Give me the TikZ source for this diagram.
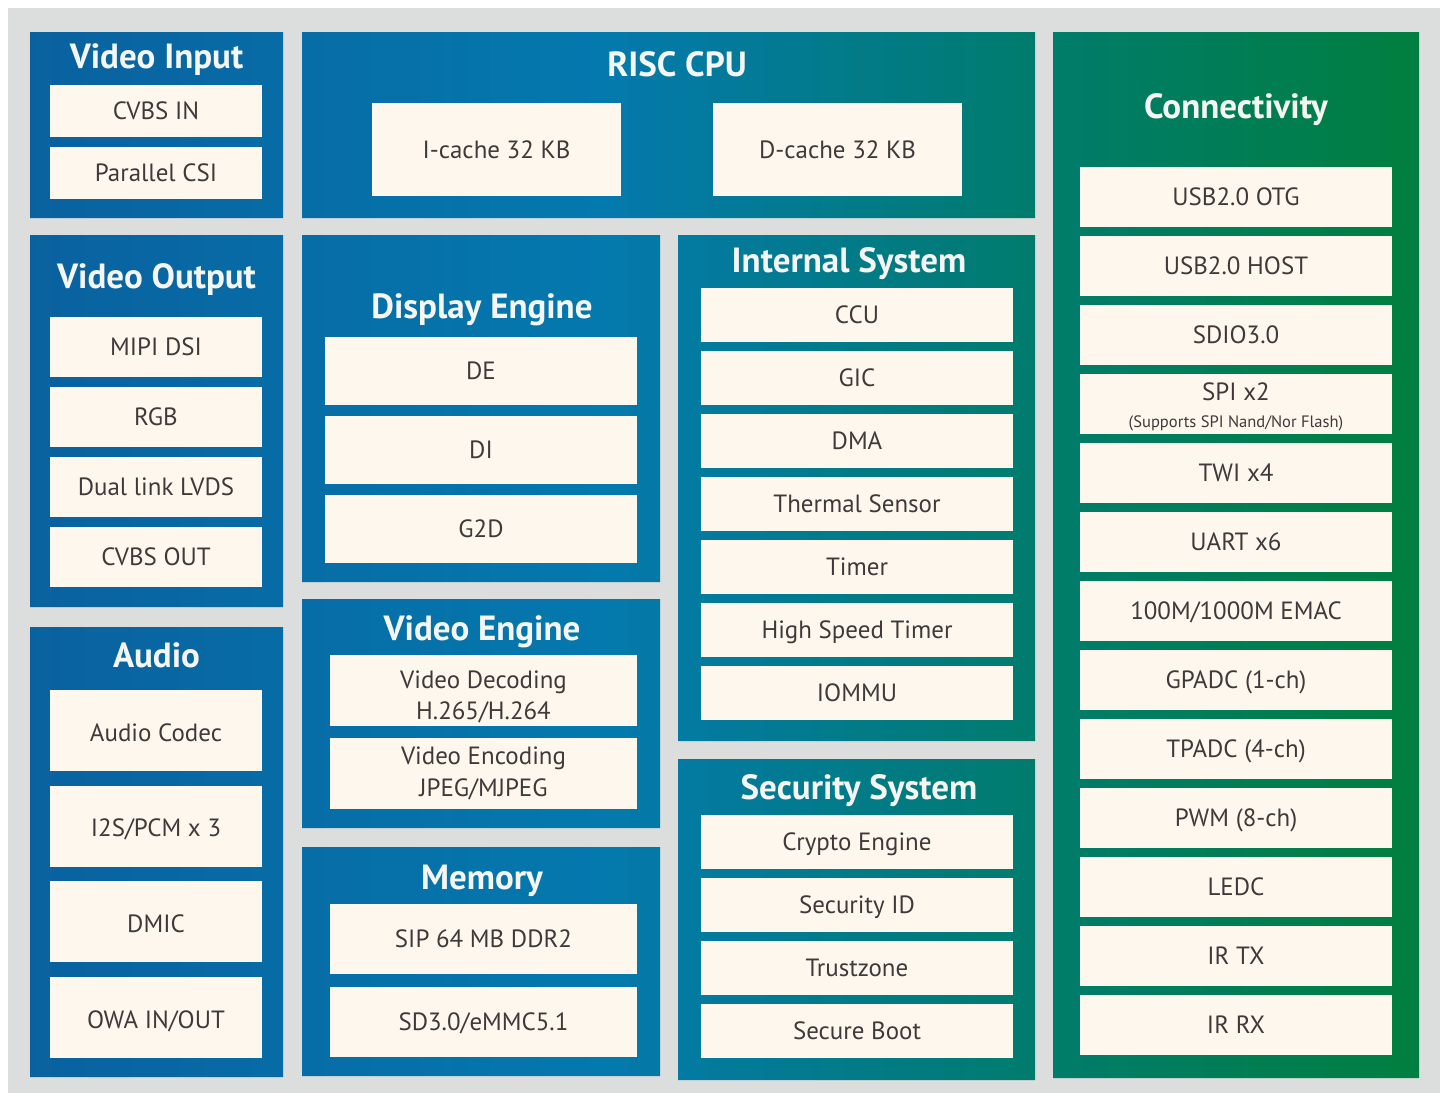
\documentclass[tikz,border=0pt]{standalone}
\usepackage{fontspec}
\setmainfont{PT Sans}
\usetikzlibrary{backgrounds}
\definecolor{chipgrey}{HTML}{DCDDDD}
\definecolor{cellfill}{HTML}{FEF7EE}
\definecolor{celltext}{HTML}{3E3A39}
\definecolor{titletext}{HTML}{F5F6F2}
\definecolor{gradA}{RGB}{10,96,158}
\definecolor{gradB}{RGB}{4,121,174}
\definecolor{gradC}{RGB}{0,124,108}
\definecolor{gradD}{RGB}{0,127,60}
\pgfdeclarehorizontalshading{chipgrad}{100bp}{color(0bp)=(gradA); color(25bp)=(gradA); color(45.7bp)=(gradB); color(60.9bp)=(gradC); color(75bp)=(gradD); color(100bp)=(gradD)}
\newdimen\pxu \pxu=0.02cm
\tikzset{grp/.style={anchor=north west, inner sep=0pt, outer sep=0pt}}
\tikzset{cellbase/.style={anchor=north west, fill=cellfill, text=celltext, inner sep=0pt, outer sep=0pt, align=center, font=\fontsize{14.2}{18}\selectfont}}
\tikzset{cell/.style={cellbase, text height=1.22em, text depth=0.2em}}
\tikzset{ttl/.style={anchor=base, text=titletext, inner sep=0pt, font=\fontsize{19.9}{23}\selectfont\bfseries}}
\newcommand\subnote[1]{{\fontsize{9.4}{11}\selectfont #1}}
\newcommand\hightop[1]{\rule{0pt}{#1}}

\begin{document}
\begin{tikzpicture}[x=0.02cm, y=-0.02cm]
\useasboundingbox (0,0) rectangle (1447,1093);
% groups
\node[grp, minimum width=253\pxu, minimum height=186\pxu] (vin) at (30,32) {};
\node[grp, minimum width=253\pxu, minimum height=372\pxu] (vout) at (30,235) {};
\node[grp, minimum width=253\pxu, minimum height=450\pxu] (audio) at (30,627) {};
\node[grp, minimum width=733\pxu, minimum height=186\pxu] (cpu) at (302,32) {};
\node[grp, minimum width=358\pxu, minimum height=347\pxu] (disp) at (302,235) {};
\node[grp, minimum width=358\pxu, minimum height=229\pxu] (veng) at (302,599) {};
\node[grp, minimum width=358\pxu, minimum height=229\pxu] (mem) at (302,847) {};
\node[grp, minimum width=357\pxu, minimum height=506\pxu] (isys) at (678,235) {};
\node[grp, minimum width=357\pxu, minimum height=321\pxu] (sec) at (678,759) {};
\node[grp, minimum width=366\pxu, minimum height=1046\pxu] (conn) at (1053,32) {};
% titles
\node[ttl] (vin-t) at (156.5,68) {Video Input};
\node[ttl] (vout-t) at (156.5,288) {Video Output};
\node[ttl] (audio-t) at (156.5,667) {Audio};
\node[ttl] (cpu-t) at (677,76) {RISC CPU};
\node[ttl] (disp-t) at (482,318) {Display Engine};
\node[ttl] (veng-t) at (482,640) {Video Engine};
\node[ttl] (mem-t) at (482,889) {Memory};
\node[ttl] (isys-t) at (849,272) {Internal System};
\node[ttl] (sec-t) at (859,799) {Security System};
\node[ttl] (conn-t) at (1236,118) {Connectivity};
% cells
\foreach \t [count=\i from 0] in {CVBS IN, Parallel CSI}
  \node[cell, minimum width=212\pxu, minimum height=52\pxu] (vin-\i) at (50,85+62*\i) {\t};
\foreach \t [count=\i from 0] in {MIPI DSI, RGB, Dual link LVDS, CVBS OUT}
  \node[cell, minimum width=212\pxu, minimum height=60\pxu] (vout-\i) at (50,317+70*\i) {\t};
\foreach \t [count=\i from 0] in {Audio Codec, I2S/PCM x 3, DMIC, OWA IN/OUT}
  \node[cell, text height=1.4em, minimum width=212\pxu, minimum height=81\pxu] (audio-\i) at (50,690+95.7*\i) {\t};
\node[cell, minimum width=249\pxu, minimum height=93\pxu] (icache) at (372,103) {I-cache 32 KB};
\node[cell, minimum width=249\pxu, minimum height=93\pxu] (dcache) at (713,103) {D-cache 32 KB};
\foreach \t [count=\i from 0] in {DE, DI, G2D}
  \node[cell, minimum width=312\pxu, minimum height=68\pxu] (disp-\i) at (325,337+79*\i) {\t};
\foreach \t [count=\i from 0] in {{\hightop{17.5pt}Video Decoding\\H.265/H.264}, {Video Encoding\\JPEG/MJPEG}}
  \node[cellbase, minimum width=307\pxu, minimum height=71\pxu] (veng-\i) at (330,655+83*\i) {\t};
\foreach \t [count=\i from 0] in {SIP 64 MB DDR2, SD3.0/eMMC5.1}
  \node[cell, minimum width=307\pxu, minimum height=70\pxu] (mem-\i) at (330,904+83*\i) {\t};
\foreach \t [count=\i from 0] in {CCU, GIC, DMA, Thermal Sensor, Timer, High Speed Timer, IOMMU}
  \node[cell, minimum width=312\pxu, minimum height=54\pxu] (isys-\i) at (701,288+63*\i) {\t};
\foreach \t [count=\i from 0] in {Crypto Engine, Security ID, Trustzone, Secure Boot}
  \node[cell, minimum width=312\pxu, minimum height=54\pxu] (sec-\i) at (701,815+63*\i) {\t};
\foreach \t [count=\i from 0] in {USB2.0 OTG, USB2.0 HOST, SDIO3.0}
  \node[cell, minimum width=312\pxu, minimum height=60\pxu] (conn-\i) at (1080,167+69*\i) {\t};
\node[cellbase, minimum width=312\pxu, minimum height=60\pxu] (conn-3) at (1080,374) {\hightop{13.5pt}SPI x2\\[-3pt]\subnote{(Supports SPI Nand/Nor Flash)}};
\foreach \t [count=\i from 4] in {TWI x4, UART x6, 100M/1000M EMAC, GPADC (1-ch), TPADC (4-ch), PWM (8-ch), LEDC, IR TX, IR RX}
  \node[cell, minimum width=312\pxu, minimum height=60\pxu] (conn-\i) at (1080,167+69*\i) {\t};
% backdrop
\begin{scope}[on background layer]
\fill[chipgrey] (8,8) rectangle (1440,1093);
\begin{scope}
\clip (vin.north west) rectangle (vin.south east) (vout.north west) rectangle (vout.south east)
  (audio.north west) rectangle (audio.south east) (cpu.north west) rectangle (cpu.south east)
  (disp.north west) rectangle (disp.south east) (veng.north west) rectangle (veng.south east)
  (mem.north west) rectangle (mem.south east) (isys.north west) rectangle (isys.south east)
  (sec.north west) rectangle (sec.south east) (conn.north west) rectangle (conn.south east);
\shade[shading=chipgrad] (0,0) rectangle (1447,1093);
\end{scope}
\end{scope}
\end{tikzpicture}
\end{document}
